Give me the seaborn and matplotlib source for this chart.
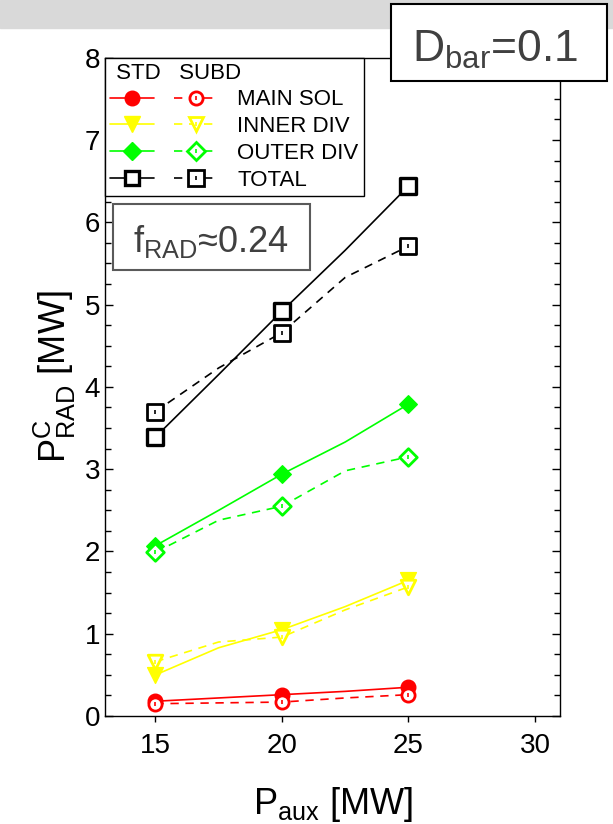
import pandas as pd
import matplotlib
matplotlib.use('Agg')
import matplotlib.pyplot as plt
import seaborn as sns
from matplotlib.lines import Line2D
from matplotlib.patches import Rectangle
from matplotlib.legend_handler import HandlerTuple
from matplotlib.ticker import MultipleLocator

# x positions of the drawn lines (markers sit on 15, 20, 25)
p_aux_line = [15, 17.5, 20, 22.5, 25]
p_aux_pts = [15, 20, 25]

# radiated power [MW]
main_std = [0.18, 0.22, 0.26, 0.30, 0.35]
main_subd = [0.15, 0.16, 0.17, 0.22, 0.26]
inner_std = [0.50, 0.83, 1.05, 1.33, 1.65]
inner_subd = [0.66, 0.90, 0.96, 1.29, 1.57]
outer_std = [2.07, 2.50, 2.94, 3.33, 3.79]
outer_subd = [1.99, 2.38, 2.55, 2.98, 3.15]
total_std = [3.39, 4.15, 4.92, 5.66, 6.44]
total_subd = [3.70, 4.23, 4.66, 5.33, 5.71]

regions = ['MAIN SOL', 'INNER DIV', 'OUTER DIV', 'TOTAL']
colors = ['#ff0000', '#ffff00', '#00ff00', '#000000']
markers = ['o', 'v', 'D', 's']
std_vals = [main_std, inner_std, outer_std, total_std]
subd_vals = [main_subd, inner_subd, outer_subd, total_subd]

rows = []
for reg, sv, dv in zip(regions, std_vals, subd_vals):
    for x, a, b in zip(p_aux_line, sv, dv):
        rows.append({'P_aux': x, 'P_rad': a, 'region': reg, 'case': 'STD'})
        rows.append({'P_aux': x, 'P_rad': b, 'region': reg, 'case': 'SUBD'})
df = pd.DataFrame(rows)

sns.set_style('ticks')
plt.rcParams['font.family'] = ['Liberation Sans', 'DejaVu Sans']
plt.rcParams['mathtext.fontset'] = 'custom'
plt.rcParams['mathtext.rm'] = 'Liberation Sans'
plt.rcParams['mathtext.it'] = 'Liberation Sans'
plt.rcParams['mathtext.default'] = 'regular'
plt.rcParams['text.color'] = 'black'
plt.rcParams['axes.labelcolor'] = 'black'
plt.rcParams['xtick.color'] = 'black'
plt.rcParams['ytick.color'] = 'black'

fig = plt.figure(figsize=(6.13, 8.24), dpi=100)
# grey slide band on top
fig.patches.append(Rectangle((0, 1 - 28 / 824), 1, 28 / 824, transform=fig.transFigure,
                             color='#d9d9d9', zorder=0))
ax = fig.add_axes([0.171, 0.131, 0.743, 0.799])

pal = dict(zip(regions, colors))
sns.lineplot(data=df, x='P_aux', y='P_rad', hue='region', style='case', palette=pal,
             dashes={'STD': '', 'SUBD': (5, 4)}, lw=1.2, estimator=None, sort=False,
             legend=False, ax=ax)

ms_std = [110, 130, 80, 120]
ms_subd = [90, 110, 80, 120]
for i, (reg, c, m) in enumerate(zip(regions, colors, markers)):
    sv = [v for x, v in zip(p_aux_line, std_vals[i]) if x in p_aux_pts]
    dv = [v for x, v in zip(p_aux_line, subd_vals[i]) if x in p_aux_pts]
    if reg == 'TOTAL':
        sns.scatterplot(x=p_aux_pts, y=sv, marker=m, s=ms_std[i], facecolor='white',
                        edgecolor=c, linewidth=2.4, zorder=3, ax=ax)
    else:
        sns.scatterplot(x=p_aux_pts, y=sv, marker=m, s=ms_std[i], color=c,
                        edgecolor=c, linewidth=1, zorder=3, ax=ax)
    sns.scatterplot(x=p_aux_pts, y=dv, marker=m, s=ms_subd[i], facecolor='white',
                    edgecolor=c, linewidth=2.0, zorder=3, ax=ax)
    sns.scatterplot(x=p_aux_pts, y=dv, marker='|', s=8, color=c, linewidth=1.2,
                    zorder=4, ax=ax)

ax.set_xlim(13, 31)
ax.set_ylim(0, 8)
ax.set_xticks([15, 20, 25, 30])
ax.yaxis.set_major_locator(MultipleLocator(1))
ax.yaxis.set_minor_locator(MultipleLocator(0.25))
ax.tick_params(axis='y', which='both', direction='in', left=True, right=True, labelsize=20)
ax.tick_params(axis='y', which='major', length=6, width=1)
ax.tick_params(axis='y', which='minor', length=4, width=1)
ax.tick_params(axis='x', which='both', direction='out', top=False, bottom=True,
               length=4, width=1, labelsize=20, pad=8)
for sp in ax.spines.values():
    sp.set_visible(True)
    sp.set_color('black')
    sp.set_linewidth(1.0)

ax.set_xlabel(r'P$_{aux}$ [MW]', fontsize=26)
ax.set_ylabel(r'P$^{C}_{RAD}$ [MW]', fontsize=26)
ax.xaxis.set_label_coords(0.5, -0.105)
ax.yaxis.set_label_coords(-0.058, 0.515)


class Overlay(tuple):
    pass


handles = []
for i, (reg, c, m) in enumerate(zip(regions, colors, markers)):
    if reg == 'TOTAL':
        std_h = Line2D([], [], color=c, lw=1.2, marker=m, ms=10, mfc='white', mec=c, mew=2.4)
    else:
        std_h = Line2D([], [], color=c, lw=1.2, marker=m, ms=ms_std[i] ** 0.5, mfc=c, mec=c)
    subd_h = Line2D([], [], color=c, lw=1.2, ls=(0, (5, 4)), marker=m, ms=ms_subd[i] ** 0.5,
                    mfc='white', mec=c, mew=2.0)
    dot_h = Line2D([], [], ls='none', marker='|', ms=3, mew=1.2, color=c)
    handles.append((std_h, Overlay((subd_h, dot_h))))

leg = ax.legend(handles, regions,
                handler_map={tuple: HandlerTuple(ndivide=None, pad=0.9),
                             Overlay: HandlerTuple(ndivide=1)},
                title=' STD   SUBD', alignment='left', loc='upper left', borderaxespad=0,
                fontsize=16, title_fontsize=16, handlelength=4.9, handletextpad=0.85,
                frameon=True, fancybox=False, edgecolor='black', framealpha=1,
                labelspacing=0.26, borderpad=0.22, numpoints=1)
leg.get_frame().set_linewidth(1.0)

# f_RAD annotation box
ax.add_patch(Rectangle((0.017, 0.678), 0.433, 0.100, transform=ax.transAxes,
                       fc='white', ec='#5a5a5a', lw=1.5, zorder=5))
ax.text(0.0615, 0.705, r'f$_{RAD}$≈0.24', transform=ax.transAxes, fontsize=26,
        color='#404040', ha='left', va='baseline', zorder=6)

# D_bar annotation box
fig.patches.append(Rectangle((391 / 613, 1 - 81 / 824), 216 / 613, 77 / 824,
                             transform=fig.transFigure, fc='white', ec='black', lw=1.5,
                             zorder=5))
fig.text(412 / 613, 1 - 62 / 824, r'D$_{bar}$=0.1', fontsize=32, color='#404040',
         ha='left', va='baseline', zorder=6)

fig.savefig('out.png', dpi=100)
